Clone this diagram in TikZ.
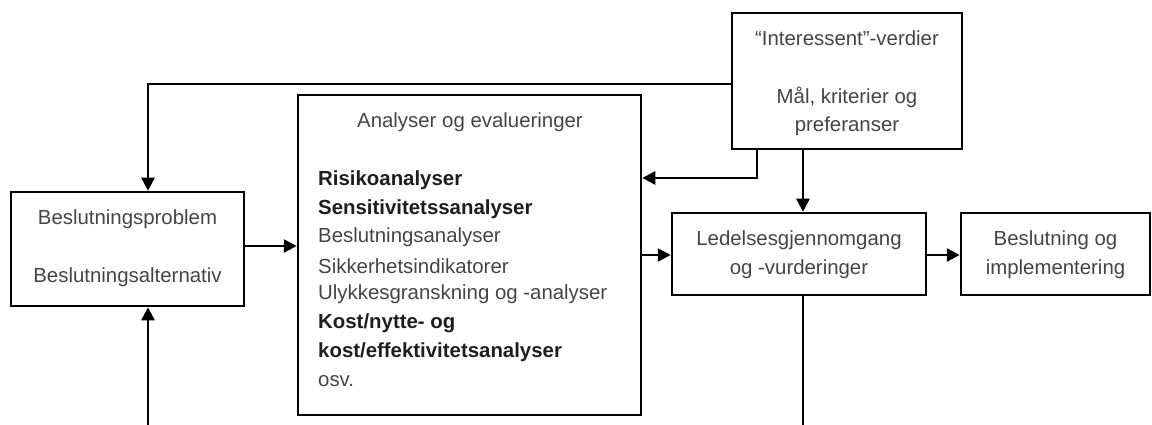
\documentclass[tikz,border=0pt]{standalone}
\usepackage{fontspec}
\setmainfont{Liberation Sans}
\usetikzlibrary{arrows.meta}
\definecolor{txt}{HTML}{454545}
\definecolor{txtb}{HTML}{1E1E1E}
\tikzset{
  box/.style={draw=black, line width=2.5pt, fill=white, inner sep=0pt},
  conn/.style={draw=black, line width=2.5pt},
  arr/.style={conn, -{Triangle[length=13pt,width=13pt]}},
  lbl/.style={text=txt, font=\fontsize{20.4}{24}\selectfont, inner sep=0pt},
  lblb/.style={text=txtb, font=\fontsize{20.4}{24}\selectfont\bfseries, inner sep=0pt},
}
\begin{document}
\begin{tikzpicture}[x=1pt,y=-1pt]
\useasboundingbox (0,0) rectangle (1152,425);
% boxes
\node[box, minimum width=233pt, minimum height=114pt] (bp) at (127.5,249) {};
\node[box, minimum width=343pt, minimum height=320pt] (an) at (469.5,255) {};
\node[box, minimum width=230pt, minimum height=136pt] (in) at (847,81) {};
\node[box, minimum width=254pt, minimum height=82pt] (le) at (799,254) {};
\node[box, minimum width=189pt, minimum height=82pt] (bi) at (1055.5,254) {};
% texts
\node[lbl] (t1) at (127.5,219) {Beslutningsproblem};
\node[lbl] (t2) at (127.5,277) {Beslutningsalternativ};
\node[lbl] (t3) at (470,122) {Analyser og evalueringer};
\node[lblb, anchor=west] (l1) at (318,180) {Risikoanalyser};
\node[lblb, anchor=west] (l2) at (318,209) {Sensitivitetssanalyser};
\node[lbl, anchor=west] (l3) at (318,237.5) {Beslutningsanalyser};
\node[lbl, anchor=west] (l4) at (318,266) {Sikkerhetsindikatorer};
\node[lbl, anchor=west] (l5) at (318,294.5) {Ulykkesgranskning og -analyser};
\node[lblb, anchor=west] (l6) at (318,323) {Kost/nytte- og};
\node[lblb, anchor=west] (l7) at (318,352) {kost/effektivitetsanalyser};
\node[lbl, anchor=west] (l8) at (318,381) {osv.};
\node[lbl] (t4) at (847,38) {“Interessent”-verdier};
\node[lbl] (t5) at (847,97) {Mål, kriterier og};
\node[lbl] (t6) at (847,126) {preferanser};
\node[lbl] (t7) at (799,240) {Ledelsesgjennomgang};
\node[lbl] (t8) at (799,269) {og -vurderinger};
\node[lbl] (t9) at (1055.5,240) {Beslutning og};
\node[lbl] (t10) at (1055.5,269) {implementering};
% helper coordinates
\coordinate (c1) at (148,84);
\coordinate (c2) at (757,178);
\coordinate (c3) at (803,0);
\coordinate (c4) at (148,425);
\coordinate (c5) at (803,425);
\coordinate (c6) at (0,246);
% connectors
\draw[arr] (in.west |- c1) -- (c1) -- (c1 |- bp.north);
\draw[arr] (c4) -- (c4 |- bp.south);
\draw[arr] (bp.east |- c6) -- (an.west |- c6);
\draw[arr] (in.south -| c2) -- (c2) -- (an.east |- c2);
\draw[arr] (in.south -| c3) -- (le.north -| c3);
\draw[arr] (an.east) -- (le.west |- an.east);
\draw[arr] (le.east |- an.east) -- (bi.west |- an.east);
\draw[conn] (le.south -| c5) -- (c5);
\end{tikzpicture}
\end{document}
